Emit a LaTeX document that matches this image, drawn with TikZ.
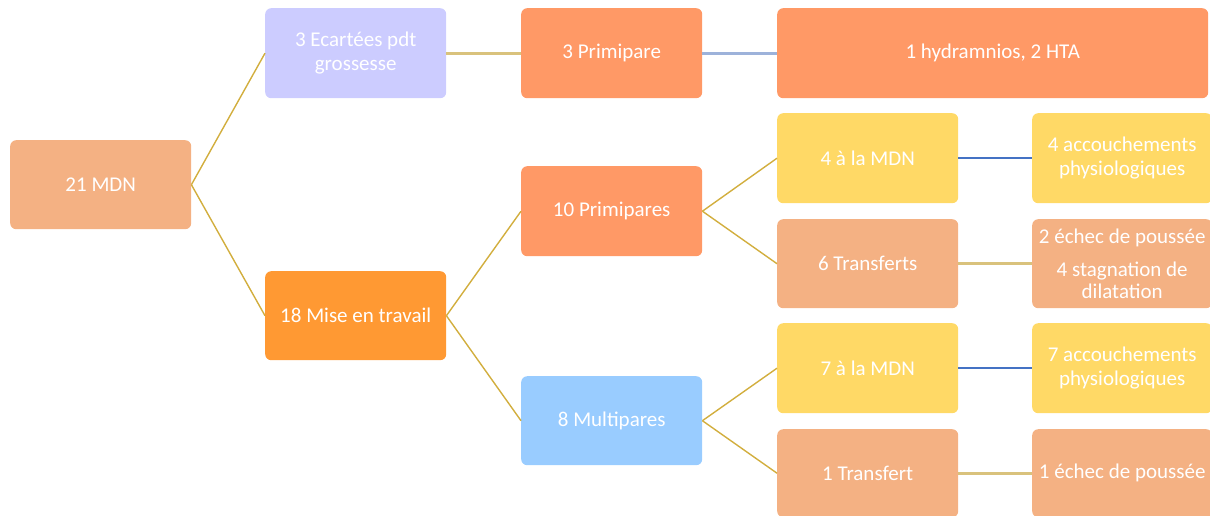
\documentclass[tikz,border=0pt]{standalone}
\usepackage{fontspec}
\setmainfont{Carlito}
\definecolor{peach}{HTML}{F4B183}
\definecolor{lav}{HTML}{CCCCFF}
\definecolor{salmon}{HTML}{FF9966}
\definecolor{orangeb}{HTML}{FF9933}
\definecolor{skyb}{HTML}{99CCFF}
\definecolor{yel}{HTML}{FFD966}
\definecolor{goldl}{HTML}{D2AE3E}
\definecolor{goldh}{HTML}{D9C27C}
\definecolor{greyb}{HTML}{9DB2DA}
\definecolor{blueb}{HTML}{4472C4}
\tikzset{
  box/.style={rectangle, rounded corners=6pt, text=white, align=center,
    font=\fontsize{21}{24}\selectfont, inner sep=2pt, anchor=north west},
  diag/.style={draw=goldl, line width=1.4pt},
  goldline/.style={draw=goldh, line width=3pt},
  greyline/.style={draw=greyb, line width=3pt},
  blueline/.style={draw=blueb, line width=1.6pt},
}
\begin{document}
\begin{tikzpicture}[x=1pt,y=-1pt]
\useasboundingbox (0,0) rectangle (1210,515);
\begin{scope}
\clip (0,0) rectangle (1210,515);
\node[box, fill=peach, minimum width=181pt, minimum height=89pt] (mdn) at (10,140) {21 MDN};
\node[box, fill=lav, minimum width=181pt, minimum height=90pt] (ecart) at (265,8) {3 Ecartées pdt\\grossesse};
\node[box, fill=salmon, minimum width=181pt, minimum height=90pt] (prim1) at (521,8) {3 Primipare};
\node[box, fill=salmon, minimum width=431pt, minimum height=90pt] (hydr) at (777,8) {1 hydramnios, 2 HTA};
\node[box, fill=orangeb, minimum width=181pt, minimum height=89pt] (mise) at (265,271) {18 Mise en travail};
\node[box, fill=salmon, minimum width=181pt, minimum height=90pt] (prim10) at (521,166) {10 Primipares};
\node[box, fill=skyb, minimum width=181pt, minimum height=89pt] (multi) at (521,376) {8 Multipares};
\node[box, fill=yel, minimum width=181pt, minimum height=90pt] (mdn4) at (777,113) {4 à la MDN};
\node[box, fill=yel, minimum width=180pt, minimum height=90pt] (acc4) at (1032,113) {4 accouchements\\physiologiques};
\node[box, fill=peach, minimum width=181pt, minimum height=89pt] (tr6) at (777,219) {6 Transferts};
\node[box, fill=peach, minimum width=180pt, minimum height=89pt, inner sep=0pt] (ech2) at (1032,219) {2 échec de poussée\\[9pt]4 stagnation de\\[-2pt]dilatation};
\node[box, fill=yel, minimum width=181pt, minimum height=90pt] (mdn7) at (777,323) {7 à la MDN};
\node[box, fill=yel, minimum width=180pt, minimum height=90pt] (acc7) at (1032,323) {7 accouchements\\physiologiques};
\node[box, fill=peach, minimum width=181pt, minimum height=88pt] (tr1) at (777,429) {1 Transfert};
\node[box, fill=peach, minimum width=180pt, minimum height=88pt, inner sep=0pt] (ech1) at (1032,429) {1 échec de poussée};
\end{scope}
\draw[diag] (mdn.east) -- (ecart.west);
\draw[diag] (mdn.east) -- (mise.west);
\draw[goldline] (ecart.east) -- (prim1.west);
\draw[greyline] (prim1.east) -- (hydr.west);
\draw[diag] (mise.east) -- (prim10.west);
\draw[diag] (mise.east) -- (multi.west);
\draw[diag] (prim10.east) -- (mdn4.west);
\draw[diag] (prim10.east) -- (tr6.west);
\draw[diag] (multi.east) -- (mdn7.west);
\draw[diag] (multi.east) -- (tr1.west);
\draw[blueline] (mdn4.east) -- (acc4.west);
\draw[goldline] (tr6.east) -- (ech2.west);
\draw[blueline] (mdn7.east) -- (acc7.west);
\draw[goldline] (tr1.east) -- (ech1.west);
\end{tikzpicture}
\end{document}
